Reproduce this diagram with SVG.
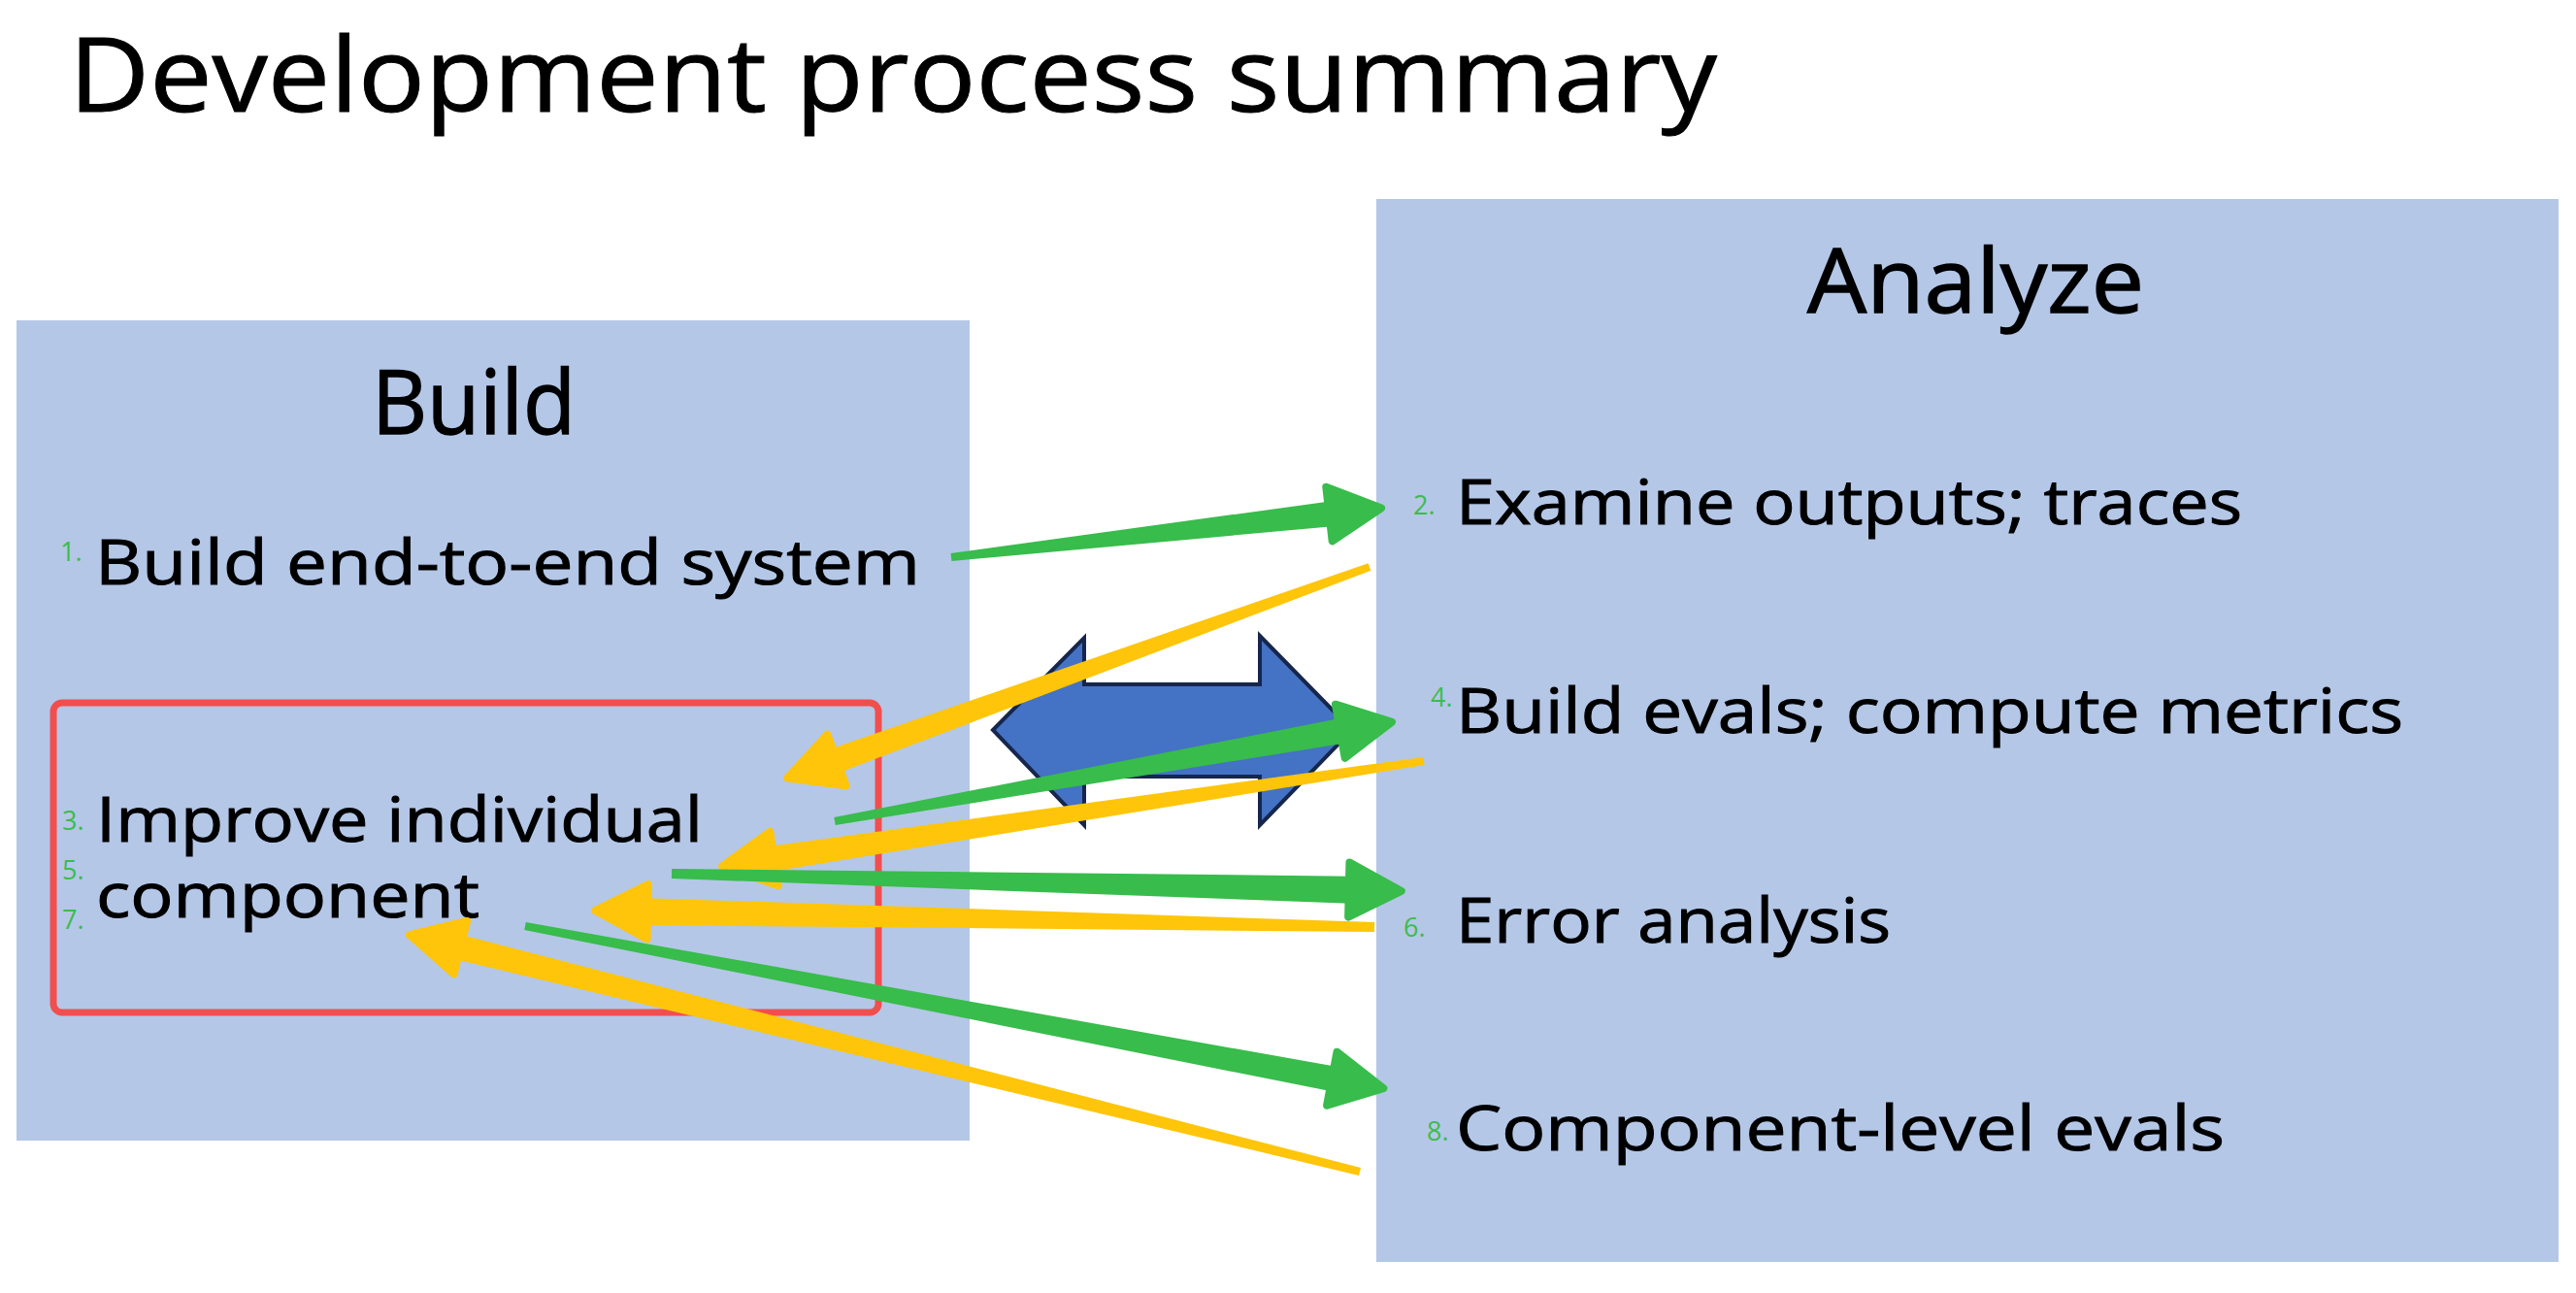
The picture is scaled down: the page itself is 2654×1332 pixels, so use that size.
<svg xmlns="http://www.w3.org/2000/svg" width="2654" height="1332" viewBox="0 0 2654 1332">
<style>
  .panel { fill: #B4C7E7; }
  .t { font-family: "Open Sans", "Noto Sans", "Liberation Sans", sans-serif; fill: #000; stroke: #000; stroke-width: 1; }
  .body { font-size: 64px; }
  .head { font-size: 92px; stroke-width: 1.4; }
  .num { font-family: "Open Sans", "Noto Sans", "Liberation Sans", sans-serif; fill: #3CBC4C; font-size: 27px; }
  .green { fill: #38BC4B; stroke: none; }
  .yellow { fill: #FFC50A; stroke: none; }
  .green .tip { stroke: #38BC4B; stroke-width: 8; stroke-linejoin: round; }
  .yellow .tip { stroke: #FFC50A; stroke-width: 8; stroke-linejoin: round; }
</style>
<rect width="2654" height="1332" fill="#ffffff"/>
<text class="t" x="71" y="115" font-size="106" stroke-width="1.2" textLength="1698" lengthAdjust="spacingAndGlyphs">Development process summary</text>

<g id="build">
  <rect class="panel" x="17" y="330" width="982" height="845"/>
  <text class="t head" x="383" y="447" textLength="210" lengthAdjust="spacingAndGlyphs">Build</text>
</g>
<g id="step1">
  <text class="num" x="62" y="578" font-size="26">1.</text>
  <text class="t body" x="98" y="602" textLength="850" lengthAdjust="spacingAndGlyphs">Build end-to-end system</text>
</g>
<g id="step3-5-7">
  <rect x="55" y="724" width="850" height="319" rx="9" fill="none" stroke="#F24E4E" stroke-width="7"/>
  <text class="num" x="64" y="855" font-size="26">3.</text>
  <text class="num" x="64" y="906" font-size="29">5.</text>
  <text class="num" x="64" y="957" font-size="29">7.</text>
  <text class="t body" x="99" y="867" textLength="625" lengthAdjust="spacingAndGlyphs">Improve individual</text>
  <text class="t body" x="99" y="945" textLength="395" lengthAdjust="spacingAndGlyphs">component</text>
</g>

<g id="analyze">
  <rect class="panel" x="1418" y="205" width="1218" height="1095"/>
  <text class="t head" x="1862" y="322" textLength="347" lengthAdjust="spacingAndGlyphs">Analyze</text>
</g>
<g id="step2">
  <text class="num" x="1456" y="530" font-size="29">2.</text>
  <text class="t body" x="1500" y="540" textLength="810" lengthAdjust="spacingAndGlyphs">Examine outputs; traces</text>
</g>
<g id="step4">
  <text class="num" x="1474" y="728" font-size="25">4.</text>
  <text class="t body" x="1500" y="755" textLength="976" lengthAdjust="spacingAndGlyphs">Build evals; compute metrics</text>
</g>
<g id="step6">
  <text class="num" x="1446" y="965" font-size="25">6.</text>
  <text class="t body" x="1500" y="971" textLength="448" lengthAdjust="spacingAndGlyphs">Error analysis</text>
</g>
<g id="step8">
  <text class="num" x="1470" y="1175" font-size="27">8.</text>
  <text class="t body" x="1500" y="1185" textLength="792" lengthAdjust="spacingAndGlyphs">Component-level evals</text>
</g>

<g id="cycle-arrow">
  <path d="M1023,752 L1117,657 L1117,705 L1298,705 L1298,655 L1393,752 L1298,850 L1298,800 L1117,800 L1117,850 Z" fill="#4472C4" stroke="#16264C" stroke-width="4" stroke-linejoin="miter"/>
</g>

<g id="connectors">
  <g class="yellow" transform="translate(1411,584) rotate(160.07)">
    <path d="M0,-4 L586,-13 L586,13 L0,4 Z"/>
    <path class="tip" d="M584,-28 L638,0 L584,28 Z"/>
  </g>
  <g class="yellow" transform="translate(1467,784) rotate(171.47)">
    <path d="M0,-4 L679,-13 L679,13 L0,4 Z"/>
    <path class="tip" d="M677,-28 L731,0 L677,28 Z"/>
  </g>
  <g class="yellow" transform="translate(1416,955) rotate(181.21)">
    <path d="M0,-5 L751,-14 L751,14 L0,5 Z"/>
    <path class="tip" d="M749,-28 L803,0 L749,28 Z"/>
  </g>
  <g class="yellow" transform="translate(1401,1207) rotate(193.99)">
    <path d="M0,-4 L957,-13 L957,13 L0,4 Z"/>
    <path class="tip" d="M955,-28 L1009,0 L955,28 Z"/>
  </g>
  <g class="green" transform="translate(980,574) rotate(-6.51)">
    <path d="M0,-4 L394,-13 L394,13 L0,4 Z"/>
    <path class="tip" d="M392,-28 L446,0 L392,28 Z"/>
  </g>
  <g class="green" transform="translate(860,846) rotate(-10.10)">
    <path d="M0,-4 L531,-13 L531,13 L0,4 Z"/>
    <path class="tip" d="M529,-28 L583,0 L529,28 Z"/>
  </g>
  <g class="green" transform="translate(692,900) rotate(1.364)">
    <path d="M0,-5 L700,-14 L700,14 L0,5 Z"/>
    <path class="tip" d="M698,-28 L752,0 L698,28 Z"/>
  </g>
  <g class="green" transform="translate(541,954) rotate(10.71)">
    <path d="M0,-4 L848,-13 L848,13 L0,4 Z"/>
    <path class="tip" d="M846,-28 L900,0 L846,28 Z"/>
  </g>
</g>
</svg>
